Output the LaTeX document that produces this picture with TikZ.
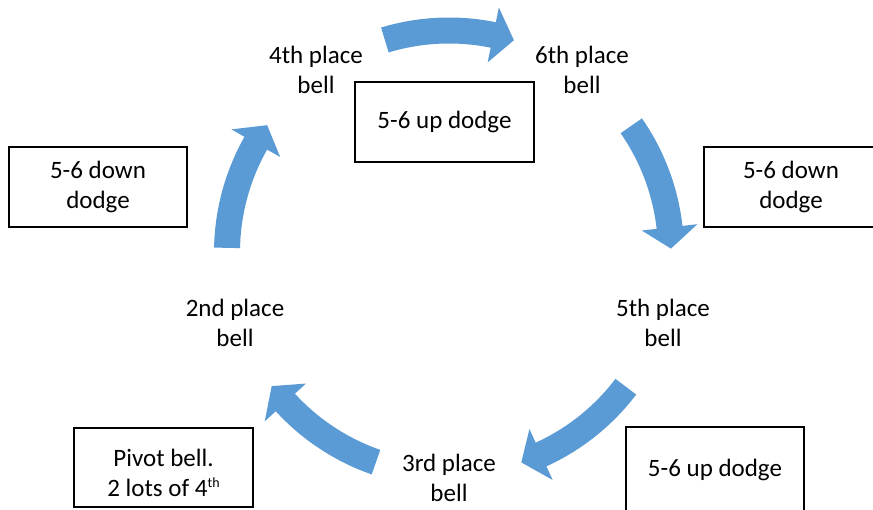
\documentclass[tikz,border=0pt]{standalone}
\usepackage{fontspec}
\setmainfont{Carlito}
\definecolor{arrowblue}{HTML}{5B9BD5}
\newcommand{\smallsup}[1]{\raisebox{9pt}{\fontsize{14}{14}\selectfont #1}}
\begin{document}
\begin{tikzpicture}[x=1pt,y=1pt,
  lbl/.style={align=center,font=\fontsize{25}{30}\selectfont,text=black,inner sep=0pt},
  boxnode/.style={draw=black,line width=1.3pt,align=center,font=\fontsize{25}{30}\selectfont,text=black,inner sep=0pt},
  cycarrow/.style={fill=arrowblue,draw=none}]
\useasboundingbox (0,0) rectangle (873,509);
\fill[white] (0,0) rectangle (873,509);
% curved block arrows of the cycle
\begin{scope}[shift={(449,256.5)}]
\foreach \t in {90,18,-54,-126,162}{
  \pgfmathsetmacro\aone{\t+16.8}
  \pgfmathsetmacro\ah{\t-11.5}
  \pgfmathsetmacro\at{\t-17}
  \fill[cycarrow] (\aone:235pt) arc[start angle=\aone,end angle=\ah,radius=235pt]
     -- (\ah:250pt) -- (\at:222pt) -- (\ah:194pt) -- (\ah:209pt)
     arc[start angle=\ah,end angle=\aone,radius=209pt] -- cycle;
}
\end{scope}
% cycle labels
\node[lbl] (l4) at (316,439) {4th place\\bell};
\node[lbl] (l6) at (582,439) {6th place\\bell};
\node[lbl] (l5) at (663,186) {5th place\\bell};
\node[lbl] (l3) at (449,31) {3rd place\\bell};
\node[lbl] (l2) at (235,186) {2nd place\\bell};
% boxes
\node[boxnode,minimum width=179,minimum height=80] (b1) at (444.5,387) {5-6 up dodge};
\node[boxnode,minimum width=178,minimum height=80] (b2) at (98,322) {5-6 down\\dodge};
\node[boxnode,minimum width=174,minimum height=80] (b3) at (791,322) {5-6 down\\dodge};
\node[boxnode,minimum width=179,minimum height=79] (b4) at (163.5,41.5) {};
\node[lbl] (b4t) at (163.5,36) {Pivot bell.\\2 lots of 4\smallsup{th}};
\node[boxnode,minimum width=178,minimum height=86] (b5) at (715,39) {5-6 up dodge};
\end{tikzpicture}
\end{document}
